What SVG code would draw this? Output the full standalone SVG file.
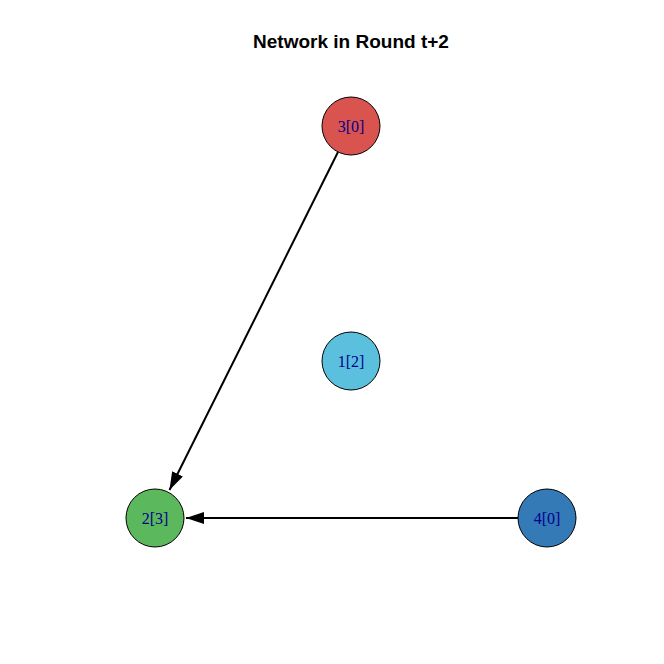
<svg xmlns="http://www.w3.org/2000/svg" width="664" height="664" viewBox="0 0 664 664">
<style>
.node circle{stroke:#000;stroke-width:1}
.node text{font-family:"Liberation Serif",serif;font-size:16px;fill:#00008B;text-anchor:middle;dominant-baseline:central}
.edge{stroke:#000;stroke-width:2;fill:none}
.title{font-family:"Liberation Sans",Arial,sans-serif;font-size:19px;font-weight:bold;text-anchor:middle}
</style>
<defs>
<marker id="arr" viewBox="0 0 18 12" refX="18" refY="6" markerWidth="18" markerHeight="12" markerUnits="userSpaceOnUse" orient="auto">
<path d="M0,0 L18,6 L0,12 Z" fill="#000"/>
</marker>
</defs>
<rect width="664" height="664" fill="#fff"/>
<text class="title" x="351" y="48">Network in Round t+2</text>
<g id="edges">
<line class="edge" x1="338" y1="152" x2="169.5" y2="490" marker-end="url(#arr)"/>
<line class="edge" x1="518" y1="518" x2="186" y2="518" marker-end="url(#arr)"/>
</g>
<g id="node1" class="node"><circle cx="351" cy="361" r="29" fill="#5BC0DE"/><text x="351" y="361">1[2]</text></g>
<g id="node2" class="node"><circle cx="155" cy="518" r="29" fill="#5CB85C"/><text x="155" y="518">2[3]</text></g>
<g id="node3" class="node"><circle cx="351" cy="126" r="29" fill="#D9534F"/><text x="351" y="126">3[0]</text></g>
<g id="node4" class="node"><circle cx="547" cy="518" r="29" fill="#337AB7"/><text x="547" y="518">4[0]</text></g>
</svg>
